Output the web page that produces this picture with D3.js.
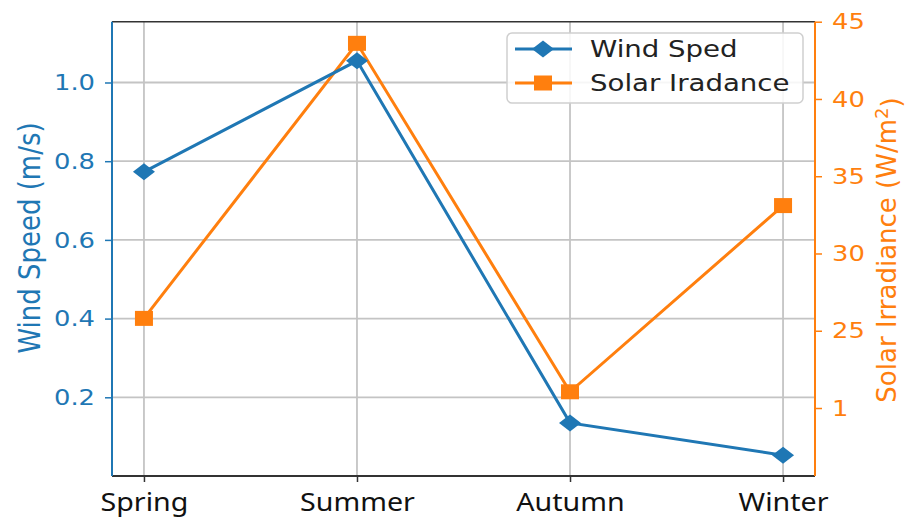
<!DOCTYPE html>
<html>
<head>
<meta charset="utf-8">
<script src="https://cdn.jsdelivr.net/npm/d3@7"></script>
<style>
  body { margin: 0; background: #fff; }
  svg { display: block; }
</style>
</head>
<body>
<svg width="905" height="520"></svg>
<script>
// dados
const estacoes = ["Spring", "Summer", "Autumn", "Winter"];
const velVento = [0.773, 1.055, 0.135, 0.053];
const irradiancia = [25.8, 43.6, 21.05, 33.1];
const ticksVento = [0.2, 0.4, 0.6, 0.8, 1.0];
const ticksIrr = [20, 25, 30, 35, 40, 45];
const rotulosIrr = ["1", "25", "30", "35", "40", "45"];
const nomesLegenda = ["Wind Sped", "Solar Iradance"];

const azul = "#1f77b4";
const laranja = "#ff7f0e";
const estica = 1.2; // a figura original parece esticada na horizontal

const svg = d3.select("svg");
const esq = 112, dir = 815, topo = 21.7, base = 476;

const x = d3.scalePoint().domain(estacoes).range([esq, dir]).padding(0.15);
const yVento = d3.scaleLinear().domain([0, 1.1545]).range([base, topo]);
const yIrr = d3.scaleLinear().domain([15.6, 45]).range([base, topo]);

// grade
const grade = svg.append("g");
grade.selectAll(".gv")
    .data(estacoes)
    .enter()
    .append("line")
    .attr("x1", d => x(d)).attr("x2", d => x(d))
    .attr("y1", topo).attr("y2", base)
    .attr("stroke", "#c4c4c4")
    .attr("stroke-width", 1.8);

grade.selectAll(".gh")
    .data(ticksVento)
    .enter()
    .append("line")
    .attr("x1", esq).attr("x2", dir)
    .attr("y1", d => yVento(d)).attr("y2", d => yVento(d))
    .attr("stroke", "#c4c4c4")
    .attr("stroke-width", 1.8);

// eixo esquerdo
const eixoEsq = svg.append("g")
    .attr("transform", `translate(${esq},0)`)
    .call(d3.axisLeft(yVento).tickValues(ticksVento).tickFormat(d3.format(".1f")).tickSize(7).tickPadding(0));
eixoEsq.select(".domain").remove();
eixoEsq.selectAll("line").attr("stroke", azul).attr("stroke-width", 1.5);
eixoEsq.selectAll("text")
    .attr("x", 0).attr("dy", null)
    .attr("transform", `translate(-17,0) scale(${estica},1)`)
    .attr("dominant-baseline", "central")
    .attr("fill", azul)
    .style("font-family", "DejaVu Sans")
    .style("font-size", "21.5px");

// eixo direito
const eixoDir = svg.append("g")
    .attr("transform", `translate(${dir},0)`)
    .call(d3.axisRight(yIrr).tickValues(ticksIrr).tickFormat((d, i) => rotulosIrr[i]).tickSize(7).tickPadding(0));
eixoDir.select(".domain").remove();
eixoDir.selectAll("line").attr("stroke", laranja).attr("stroke-width", 1.5);
eixoDir.selectAll("text")
    .attr("x", 0).attr("dy", null)
    .attr("transform", `translate(17,0) scale(${estica},1)`)
    .attr("dominant-baseline", "central")
    .attr("fill", laranja)
    .style("font-family", "DejaVu Sans")
    .style("font-size", "21.5px");

// eixo x
const eixoX = svg.append("g")
    .attr("transform", `translate(0,${base})`)
    .call(d3.axisBottom(x).tickSize(6).tickPadding(0));
eixoX.select(".domain").remove();
eixoX.selectAll("line").attr("stroke", "#333").attr("stroke-width", 1.5);
eixoX.selectAll("text")
    .attr("y", 0).attr("dy", null)
    .attr("transform", `translate(0,35) scale(1.1,1)`)
    .attr("fill", "#111")
    .style("font-family", "Noto Sans")
    .style("font-size", "26px");

// bordas
svg.append("line").attr("x1", esq).attr("x2", dir).attr("y1", topo).attr("y2", topo)
    .attr("stroke", "#333").attr("stroke-width", 1.5);
svg.append("line").attr("x1", esq).attr("x2", dir).attr("y1", base).attr("y2", base)
    .attr("stroke", "#333").attr("stroke-width", 2);
svg.append("line").attr("x1", esq).attr("x2", esq).attr("y1", topo).attr("y2", base)
    .attr("stroke", azul).attr("stroke-width", 2);
svg.append("line").attr("x1", dir).attr("x2", dir).attr("y1", topo).attr("y2", base)
    .attr("stroke", laranja).attr("stroke-width", 2);

// títulos
svg.append("text")
    .attr("transform", `translate(40,238) scale(1.15,1) rotate(-90)`)
    .attr("text-anchor", "middle")
    .attr("fill", azul)
    .style("font-family", "DejaVu Sans")
    .style("font-size", "26px")
    .text("Wind Speed (m/s)");

const tituloDir = svg.append("text")
    .attr("transform", `translate(896,250) rotate(-90)`)
    .attr("text-anchor", "middle")
    .attr("fill", laranja)
    .style("font-family", "DejaVu Sans")
    .style("font-size", "26px");
tituloDir.append("tspan").text("Solar Irradiance (W/m");
tituloDir.append("tspan").attr("dy", "-0.45em").style("font-size", "18px").text("2");
tituloDir.append("tspan").attr("dy", "0.45em").text(")");

// séries
const linha = escala => d3.line().x((d, i) => x(estacoes[i])).y(d => escala(d));

svg.append("path")
    .datum(irradiancia)
    .attr("d", linha(yIrr))
    .attr("fill", "none")
    .attr("stroke", laranja)
    .attr("stroke-width", 3);

svg.selectAll(".quadrado")
    .data(irradiancia)
    .enter()
    .append("rect")
    .attr("class", "quadrado")
    .attr("x", (d, i) => x(estacoes[i]) - 9)
    .attr("y", d => yIrr(d) - 7.5)
    .attr("width", 18)
    .attr("height", 15)
    .attr("fill", laranja);

svg.append("path")
    .datum(velVento)
    .attr("d", linha(yVento))
    .attr("fill", "none")
    .attr("stroke", azul)
    .attr("stroke-width", 3);

const losango = (cx, cy) => `M${cx - 11},${cy}L${cx},${cy - 8.5}L${cx + 11},${cy}L${cx},${cy + 8.5}Z`;

svg.selectAll(".losango")
    .data(velVento)
    .enter()
    .append("path")
    .attr("class", "losango")
    .attr("d", (d, i) => losango(x(estacoes[i]), yVento(d)))
    .attr("fill", azul);

// legenda
const leg = svg.append("g");
leg.append("rect")
    .attr("x", 507).attr("y", 33)
    .attr("width", 296).attr("height", 70)
    .attr("rx", 5)
    .attr("fill", "rgba(255,255,255,0.85)")
    .attr("stroke", "#cfcfcf")
    .attr("stroke-width", 1.5);

const itensLeg = [
    {nome: nomesLegenda[0], cor: azul, y: 49, marca: "losango"},
    {nome: nomesLegenda[1], cor: laranja, y: 83, marca: "quadrado"}
];

itensLeg.forEach(it => {
    leg.append("line")
        .attr("x1", 515).attr("x2", 572)
        .attr("y1", it.y).attr("y2", it.y)
        .attr("stroke", it.cor)
        .attr("stroke-width", 3);
    if (it.marca === "losango") {
        leg.append("path").attr("d", losango(543, it.y)).attr("fill", it.cor);
    } else {
        leg.append("rect")
            .attr("x", 534).attr("y", it.y - 7.5)
            .attr("width", 18).attr("height", 15)
            .attr("fill", it.cor);
    }
    leg.append("text")
        .attr("transform", `translate(590,${it.y}) scale(${estica},1)`)
        .attr("dominant-baseline", "central")
        .attr("fill", "#222")
        .style("font-family", "DejaVu Sans")
        .style("font-size", "23px")
        .text(it.nome);
});
</script>
</body>
</html>
